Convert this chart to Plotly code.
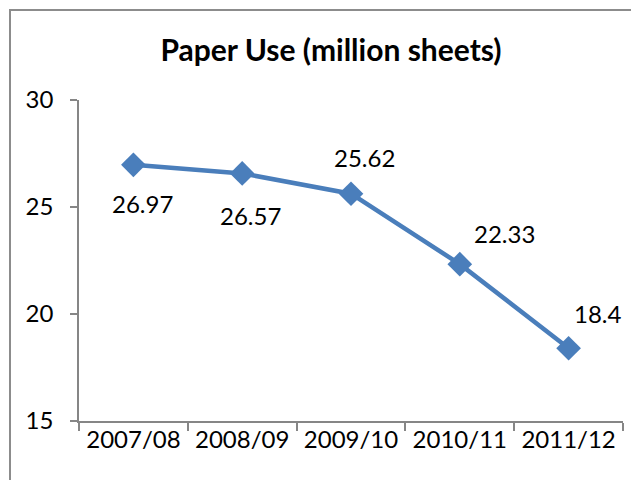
import plotly.graph_objects as go

categories = ["2007/08", "2008/09", "2009/10", "2010/11", "2011/12"]
paper_use = [26.97, 26.57, 25.62, 22.33, 18.4]
label_text = ["26.97", "26.57", "25.62", "22.33", "18.4"]
y_ticks = [15, 20, 25, 30]

label_xshift = [9, 8, 13, 45, 29]
label_yshift = [-39, -42, 36, 31, 35]

FONT = "Lato"
LINE_COLOR = "#4A7EBB"
AXIS_COLOR = "#868686"

fig = go.Figure()
fig.add_trace(go.Scatter(
    x=categories, y=paper_use, mode="lines+markers",
    line=dict(color=LINE_COLOR, width=4.5),
    marker=dict(symbol="diamond", size=19, color=LINE_COLOR),
    hoverinfo="skip", showlegend=False,
))

for c, v, t, dx, dy in zip(categories, paper_use, label_text, label_xshift, label_yshift):
    fig.add_annotation(x=c, y=v, text=t, showarrow=False, xshift=dx, yshift=dy,
                       font=dict(family=FONT, size=24, color="#000000"))

# page has an 8px body margin, so figure coords = screen coords - 8
OFF = 8
W, H = 639, 483
L, R, T, B = 79 - OFF, W - (623 - OFF), 100 - OFF, H - (421 - OFF)
pw, ph = W - L - R, H - T - B

def px_to_paper_x(px):
    return (px - OFF - L) / pw

def px_to_paper_y(py):
    return (H - B - (py - OFF)) / ph

# chart border (cropped): left and top gray lines
fig.add_shape(type="path", xref="paper", yref="paper",
              path=(f"M {px_to_paper_x(10)},{px_to_paper_y(480)} "
                    f"L {px_to_paper_x(10)},{px_to_paper_y(10)} "
                    f"L {px_to_paper_x(646)},{px_to_paper_y(10)}"),
              line=dict(color="#8C8C8C", width=2))

fig.update_layout(
    width=W, height=H,
    margin=dict(l=L, r=R, t=T, b=B),
    paper_bgcolor="white", plot_bgcolor="white",
    font=dict(family=FONT, size=24, color="#000000"),
    title=dict(text="<b>Paper Use (million sheets)</b>", x=(331 - OFF) / W, xanchor="center",
               y=1 - (50 - OFF) / H, yanchor="middle", font=dict(family=FONT, size=30)),
    xaxis=dict(type="category", range=[-0.5, 4.5], showgrid=False,
               showline=True, linecolor=AXIS_COLOR, linewidth=1.5,
               ticks="outside", tickson="boundaries", ticklen=8, tickcolor=AXIS_COLOR,
               tickwidth=1.5, ticklabelstandoff=-4, zeroline=False),
    yaxis=dict(range=[15, 30], tickvals=y_ticks, showgrid=False,
               showline=True, linecolor=AXIS_COLOR, linewidth=1.5,
               ticks="outside", ticklen=7, tickcolor=AXIS_COLOR, tickwidth=1.5,
               ticklabelstandoff=12, zeroline=False),
)

fig.write_html("out.html")
